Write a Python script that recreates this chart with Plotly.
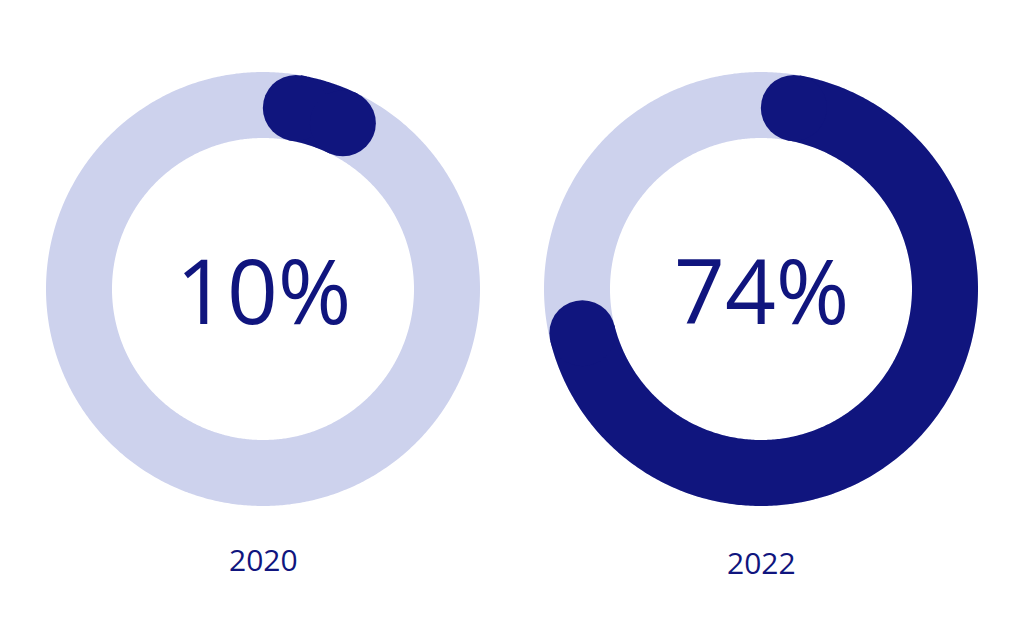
import numpy as np
import plotly.graph_objects as go

years = ["2020", "2022"]
percents = [10, 74]
labels = ["10%", "74%"]

DARK = "#10157E"
LIGHT = "#CDD2ED"
W, H = 1023, 635
centers_x = [263, 761]
center_y = 289
label_y = [559.5, 562]
mid_r_px = 184
thick = 66
rmax = 1.3
cap_deg = np.degrees((thick / 2) / mid_r_px)

fig = go.Figure()
for i, (yr, p, lab) in enumerate(zip(years, percents, labels)):
    pname = "polar" if i == 0 else f"polar{i+1}"
    sub = pname
    track_theta = np.linspace(0, 370, 741)
    fig.add_trace(go.Scatterpolar(r=np.ones_like(track_theta), theta=track_theta, mode="lines",
                                  line=dict(color=LIGHT, width=thick), subplot=sub,
                                  hoverinfo="skip", showlegend=False))
    end = p * 3.6
    arc_theta = np.linspace(cap_deg, end - cap_deg, 400)
    fig.add_trace(go.Scatterpolar(r=np.ones_like(arc_theta), theta=arc_theta, mode="lines",
                                  line=dict(color=DARK, width=thick), subplot=sub,
                                  hoverinfo="skip", showlegend=False))
    fig.add_trace(go.Scatterpolar(r=[1, 1], theta=[cap_deg, end - cap_deg], mode="markers",
                                  marker=dict(color=DARK, size=thick, line=dict(width=0)),
                                  subplot=sub, hoverinfo="skip", showlegend=False))
    half = mid_r_px * rmax
    cx = centers_x[i]
    dom_x = [(cx - half) / W, (cx + half) / W]
    cy_b = H - center_y
    dom_y = [(cy_b - half) / H, (cy_b + half) / H]
    fig.update_layout(**{pname: dict(
        domain=dict(x=dom_x, y=dom_y),
        bgcolor="rgba(0,0,0,0)",
        radialaxis=dict(visible=False, range=[0, rmax]),
        angularaxis=dict(visible=False, direction="clockwise", rotation=90),
    )})
    fig.add_annotation(x=cx / W, y=(H - center_y) / H, xref="paper", yref="paper",
                       text=lab, showarrow=False, xanchor="center", yanchor="middle",
                       font=dict(family="Open Sans", size=89, color=DARK))
    fig.add_annotation(x=cx / W, y=(H - label_y[i]) / H, xref="paper", yref="paper",
                       text=yr, showarrow=False, xanchor="center", yanchor="middle",
                       font=dict(family="Open Sans", size=30, color=DARK))

fig.update_layout(width=W, height=H, margin=dict(l=0, r=0, t=0, b=0),
                  paper_bgcolor="white", plot_bgcolor="white", showlegend=False)
fig.write_html("out.html", config={"displayModeBar": False},
               post_script="document.body.style.margin='0';")
